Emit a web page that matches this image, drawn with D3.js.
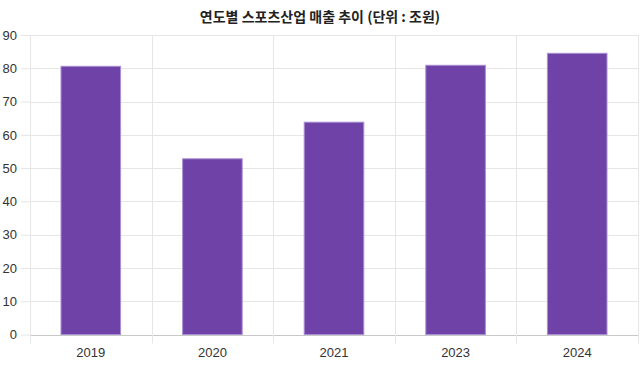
<!DOCTYPE html>
<html><head><meta charset="utf-8">
<script src="https://cdn.jsdelivr.net/npm/d3@7"></script>
<style>body{margin:0;background:#fff}svg{display:block}</style>
</head><body>
<script>
const years = ["2019", "2020", "2021", "2023", "2024"];
const sales = [80.6, 52.8, 63.8, 80.9, 84.5];
const yTicks = [0, 10, 20, 30, 40, 50, 60, 70, 80, 90];
const title = "연도별 스포츠산업 매출 추이 (단위 : 조원)";

const W = 640, H = 366;
const m = {left: 30, right: 2, top: 35, bottom: 31.5};
const svg = d3.select("body").append("svg").attr("width", W).attr("height", H);
const font = "'Liberation Sans', Arial, 'Noto Sans CJK KR', sans-serif";

const x = d3.scaleBand().domain(years).range([m.left, W - m.right]).padding(0);
const y = d3.scaleLinear().domain([0, 90]).range([H - m.bottom, m.top]);

// horizontal gridlines + y ticks
const gy = svg.append("g").attr("transform", `translate(${m.left},0)`)
  .call(d3.axisLeft(y).tickValues(yTicks).tickSize(9).tickPadding(4).tickFormat(d3.format("d")));
gy.select(".domain").remove();
gy.selectAll(".tick line").attr("stroke", "#e4e4e4");
gy.selectAll(".tick text").attr("fill", "#333").style("font", `13px ${font}`);
svg.append("g").selectAll("line").data(yTicks).join("line")
  .attr("x1", m.left).attr("x2", W - m.right)
  .attr("y1", d => Math.round(y(d)) + 0.5).attr("y2", d => Math.round(y(d)) + 0.5)
  .attr("stroke", d => d === 0 ? "#c8c8c8" : "#e6e6e6");

// vertical gridlines (category boundaries) extending below axis
const bounds = years.map(d => x(d)).concat([W - m.right]);
svg.append("g").selectAll("line").data(bounds).join("line")
  .attr("x1", d => Math.round(d) + 0.5).attr("x2", d => Math.round(d) + 0.5)
  .attr("y1", m.top).attr("y2", H - m.bottom + 9)
  .attr("stroke", "#e6e6e6");

// bars
const bw = x.bandwidth() * 0.49;
svg.append("g").selectAll("rect").data(years).join("rect")
  .attr("x", d => x(d) + (x.bandwidth() - bw) / 2)
  .attr("width", bw)
  .attr("y", (d, i) => y(sales[i]))
  .attr("height", (d, i) => y(0) - y(sales[i]))
  .attr("fill", "#6f42a8")
  .attr("stroke", "#a88fd3").attr("stroke-width", 1);

// x labels
svg.append("g").selectAll("text").data(years).join("text")
  .attr("x", d => x(d) + x.bandwidth() / 2)
  .attr("y", H - m.bottom + 22)
  .attr("text-anchor", "middle")
  .attr("fill", "#333")
  .style("font", `13px ${font}`)
  .text(d => d);

// title
svg.append("text").attr("x", 320).attr("y", 22).attr("text-anchor", "middle")
  .attr("fill", "#222")
  .style("font", `bold 14px 'Noto Sans CJK KR', sans-serif`)
  .text(title);
</script>
</body></html>
